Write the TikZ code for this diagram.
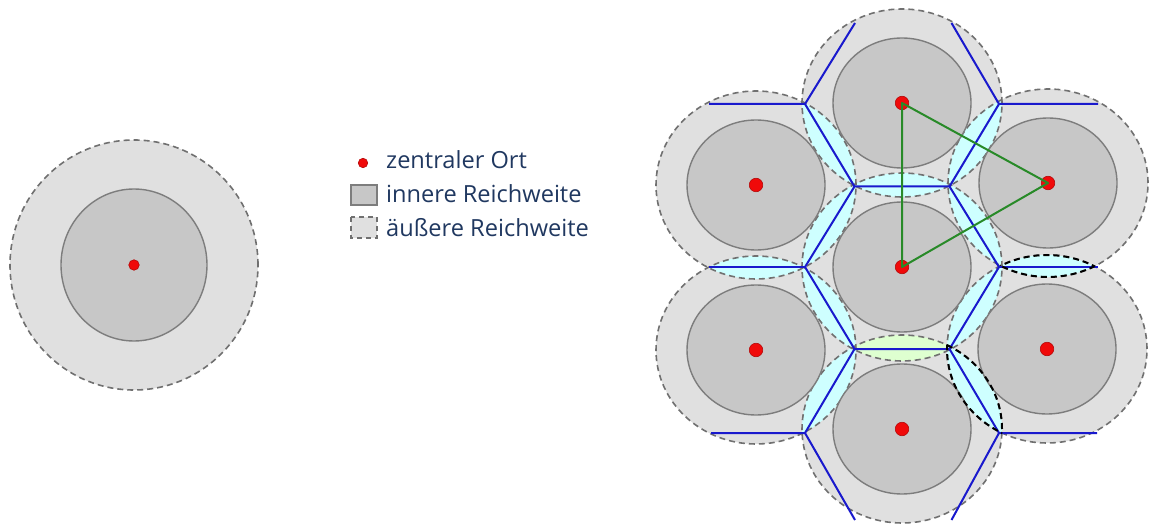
\documentclass[tikz,border=0pt]{standalone}
\usepackage{fontspec}
\newfontfamily\legfont{Open Sans}
\definecolor{outergray}{RGB}{224,224,224}
\definecolor{innergray}{RGB}{199,199,199}
\definecolor{innerstroke}{RGB}{125,125,125}
\definecolor{dashgray}{RGB}{112,112,112}
\definecolor{lenscyan}{RGB}{206,255,255}
\definecolor{lensgreen}{RGB}{222,255,208}
\definecolor{cellblue}{RGB}{25,25,205}
\definecolor{trigreen}{RGB}{40,138,40}
\definecolor{ortred}{RGB}{240,10,10}
\definecolor{legblue}{RGB}{32,56,96}
\tikzset{
  outerfill/.style={fill=outergray},
  outerline/.style={draw=dashgray, line width=1.6pt, dash pattern=on 6pt off 4pt},
  innerc/.style={fill=innergray, draw=innerstroke, line width=1.4pt},
  celledge/.style={draw=cellblue, line width=2pt},
  triedge/.style={draw=trigreen, line width=2pt},
  lensedge/.style={draw=black, line width=2pt, dash pattern=on 6pt off 4pt},
  ort/.style={circle, fill=ortred, draw=ortred!75!black, line width=0.6pt, inner sep=0pt, minimum size=#1},
  ort/.default=13.5pt,
  legtext/.style={text=legblue, font=\legfont\fontsize{23.6}{26}\selectfont, anchor=base west, inner sep=0pt},
}
\begin{document}
\begin{tikzpicture}[x=1pt,y=-1pt]
\useasboundingbox (0,0) rectangle (1150,526);
% ---------- single market area ----------
\coordinate (S) at (134,265);
\fill[outergray] (S) ellipse [x radius=124pt, y radius=125pt];
\draw[outerline] (S) ellipse [x radius=124pt, y radius=125pt];
\draw[innerc] (S) ellipse [x radius=73pt, y radius=76pt];
\node[ort=10.5pt] (sdot) at (S) {};
% ---------- legend ----------
\node[ort=9.5pt] (ldot) at (363,163) {};
\node[legtext] (l1) at (386,169) {zentraler Ort};
\draw[innerc, line width=1.2pt] (351,185) rectangle (377,205);
\node[legtext] (l2) at (386,203) {innere Reichweite};
\draw[fill=outergray, draw=dashgray, line width=1.4pt, dash pattern=on 5pt off 4pt] (351,217) rectangle (377,238);
\node[legtext] (l3) at (386,237) {äußere Reichweite};
% ---------- hexagonal system ----------
\coordinate (C) at (902,267);
\coordinate (T) at (902,103);
\coordinate (TR) at (1048,183);
\coordinate (BR) at (1047,349);
\coordinate (B) at (902,429);
\coordinate (BL) at (756,350);
\coordinate (TL) at (756,185);
\def\rx{100pt}\def\ry{94pt}
\foreach \p in {C,T,TR,BR,B,BL,TL}
  \fill[outergray] (\p) ellipse [x radius=\rx, y radius=\ry];
\foreach \a/\b/\col in {C/T/lenscyan, C/TR/lenscyan, C/BR/lenscyan, C/B/lensgreen,
    C/BL/lenscyan, C/TL/lenscyan, T/TR/lenscyan, TR/BR/lenscyan, BR/B/lenscyan,
    B/BL/lenscyan, BL/TL/lenscyan, TL/T/lenscyan}{
  \begin{scope}
    \clip (\a) ellipse [x radius=\rx, y radius=\ry];
    \fill[\col] (\b) ellipse [x radius=\rx, y radius=\ry];
  \end{scope}
}
\foreach \p in {C,T,TR,BR,B,BL,TL}
  \draw[outerline] (\p) ellipse [x radius=\rx, y radius=\ry];
\foreach \p in {C,T,TR,BR,B,BL,TL}
  \draw[innerc] (\p) ellipse [x radius=69pt, y radius=65pt];
% cell boundaries
\coordinate (h1) at (854.5,186.5);
\coordinate (h2) at (949.5,186.5);
\coordinate (h3) at (999,267);
\coordinate (h4) at (949.5,349);
\coordinate (h5) at (854.5,349);
\coordinate (h6) at (805,267);
\coordinate (o1) at (805,104);
\coordinate (o2) at (999,104);
\coordinate (o3) at (999,433);
\coordinate (o4) at (805,433);
\coordinate (e1) at (709,104);
\coordinate (e2) at (855,23);
\coordinate (e3) at (951.5,23);
\coordinate (e4) at (1098,104);
\coordinate (e5) at (1098,267);
\coordinate (e6) at (1097,433);
\coordinate (e7) at (951.5,520);
\coordinate (e8) at (855,520);
\coordinate (e9) at (711,433);
\coordinate (e10) at (709,267);
\draw[celledge, line join=round] (h1) -- (h2) -- (h3) -- (h4) -- (h5) -- (h6) -- cycle;
\draw[celledge, line join=round] (e1) -- (o1) -- (h1);
\draw[celledge] (o1) -- (e2);
\draw[celledge, line join=round] (e4) -- (o2) -- (h2);
\draw[celledge] (o2) -- (e3);
\draw[celledge] (h3) -- (e5);
\draw[celledge] (h6) -- (e10);
\draw[celledge, line join=round] (e6) -- (o3) -- (h4);
\draw[celledge] (o3) -- (e7);
\draw[celledge, line join=round] (e9) -- (o4) -- (h5);
\draw[celledge] (o4) -- (e8);
% highlighted overlaps
\begin{scope}
  \clip (TR) ellipse [x radius=\rx, y radius=\ry];
  \draw[lensedge] (BR) ellipse [x radius=\rx, y radius=\ry];
\end{scope}
\begin{scope}
  \clip (BR) ellipse [x radius=\rx, y radius=\ry];
  \draw[lensedge] (TR) ellipse [x radius=\rx, y radius=\ry];
\end{scope}
\begin{scope}
  \clip (BR) ellipse [x radius=\rx, y radius=\ry];
  \draw[lensedge] (B) ellipse [x radius=\rx, y radius=\ry];
\end{scope}
\begin{scope}
  \clip (B) ellipse [x radius=\rx, y radius=\ry];
  \draw[lensedge] (BR) ellipse [x radius=\rx, y radius=\ry];
\end{scope}
% central places
\foreach \p in {C,T,TR,BR,B,BL,TL}
  \node[ort] (dot\p) at (\p) {};
% triangle
\draw[triedge, line join=round] (dotC.center) -- (dotT.center) -- (dotTR.center) -- cycle;
\end{tikzpicture}
\end{document}
